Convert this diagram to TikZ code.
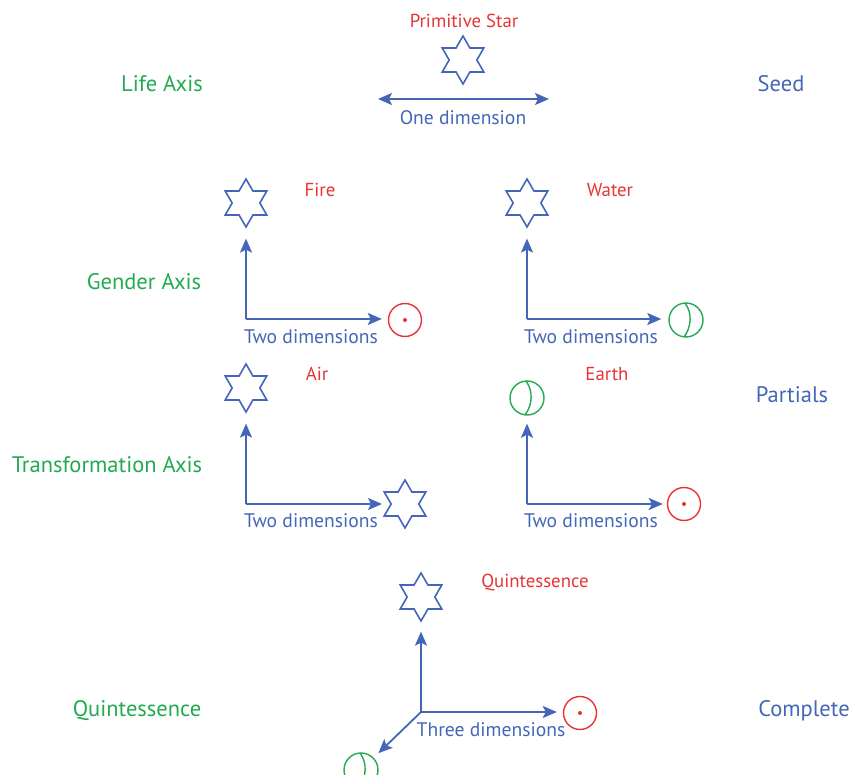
\documentclass[tikz,border=0pt]{standalone}
\usepackage{fontspec}
\setmainfont{PT Sans}
\usetikzlibrary{arrows.meta,shapes.geometric,calc}
\definecolor{cblue}{RGB}{68,102,184}
\definecolor{cred}{RGB}{230,52,52}
\definecolor{cgreen}{RGB}{34,170,80}
\begin{document}
\begin{tikzpicture}[x=1pt,y=-1pt,
  axislbl/.style={font=\fontsize{22.5}{24}\selectfont},
  elemlbl/.style={text=cred,font=\fontsize{18.8}{20}\selectfont},
  dimlbl/.style={text=cblue,font=\fontsize{19.6}{21}\selectfont},
  starsym/.style={shape=star,star points=6,star point ratio=1.732,minimum size=48pt,inner sep=0pt,draw=cblue,line width=1.6pt},
  sunsym/.style={circle,draw=cred,line width=1.4pt,minimum size=33pt,inner sep=0pt,
    path picture={\fill[cred] (path picture bounding box.center) circle (2pt);}},
  earthsym/.style={circle,draw=cgreen,line width=1.4pt,minimum size=34pt,inner sep=0pt,
    path picture={\draw[cgreen,line width=1.4pt] ([xshift=-1pt]path picture bounding box.north) .. controls +(7.5pt,-10pt) and +(7.5pt,10pt) .. ([xshift=-2pt]path picture bounding box.south);}},
  arr/.style={draw=cblue,line width=1.8pt,-{Stealth[length=14pt,width=12pt,inset=3pt]}},
  darr/.style={draw=cblue,line width=1.8pt,{Stealth[length=14pt,width=12pt,inset=3pt]}-{Stealth[length=14pt,width=12pt,inset=3pt]}}
]
\useasboundingbox (0,0) rectangle (852,775);

% side labels
\node[axislbl,text=cgreen] (lifeaxis) at (162,84) {Life Axis};
\node[axislbl,text=cgreen] (genderaxis) at (144,282) {Gender Axis};
\node[axislbl,text=cgreen] (transaxis) at (107,465) {Transformation Axis};
\node[axislbl,text=cgreen] (quintaxis) at (137,711) {Quintessence};
\node[axislbl,text=cblue] (seed) at (781,84) {Seed};
\node[axislbl,text=cblue] (partials) at (792,395) {Partials};
\node[axislbl,text=cblue] (complete) at (804,711) {Complete};

% primitive star
\node[elemlbl] (primlbl) at (464,21) {Primitive Star};
\node[starsym] (pstar) at (463,60) {};
\coordinate (oneL) at (378,99);
\coordinate (oneR) at (549,99);
\draw[darr] (oneL) -- (oneR);
\node[dimlbl] (onedim) at (463,118) {One dimension};

% fire
\node[elemlbl] (firelbl) at (320,190) {Fire};
\node[starsym] (firestar) at (246,203) {};
\coordinate (firec) at (246,319);
\node[sunsym] (firesun) at (405,320) {};
\draw[arr] (firec) -- ([yshift=-10pt]firestar.south);
\draw[arr] (firec) -- ([xshift=-6pt]firesun.west |- firec);
\node[dimlbl] (firedim) at (311,337) {Two dimensions};

% water
\node[elemlbl] (waterlbl) at (610,190) {Water};
\node[starsym] (waterstar) at (527,203) {};
\coordinate (waterc) at (527,319);
\node[earthsym] (waterearth) at (686,320) {};
\draw[arr] (waterc) -- ([yshift=-10pt]waterstar.south);
\draw[arr] (waterc) -- ([xshift=-7pt]waterearth.west |- waterc);
\node[dimlbl] (waterdim) at (591,337) {Two dimensions};

% air
\node[elemlbl] (airlbl) at (317,374) {Air};
\node[starsym] (airstar) at (246,388) {};
\coordinate (airc) at (246,504);
\node[starsym] (airstar2) at (405,504) {};
\draw[arr] (airc) -- ([yshift=-10pt]airstar.south);
\draw[arr] (airc) -- ([xshift=-23pt]airstar2.center);
\node[dimlbl] (airdim) at (311,521) {Two dimensions};

% earth
\node[elemlbl] (earthlbl) at (607,374) {Earth};
\node[earthsym] (earthearth) at (527,398) {};
\coordinate (earthc) at (527,504);
\node[sunsym] (earthsun) at (684,504) {};
\draw[arr] (earthc) -- ([yshift=-8pt]earthearth.south);
\draw[arr] (earthc) -- ([xshift=-4pt]earthsun.west |- earthc);
\node[dimlbl] (earthdim) at (591,521) {Two dimensions};

% quintessence
\node[elemlbl] (quintlbl) at (535,583) {Quintessence};
\node[starsym] (qstar) at (421,597) {};
\coordinate (qc) at (421,712);
\node[sunsym] (qsun) at (580,713) {};
\node[earthsym] (qearth) at (361,770) {};
\draw[arr] (qc) -- ([yshift=-9pt]qstar.south);
\draw[arr] (qc) -- ([xshift=-6pt]qsun.west |- qc);
\draw[arr] (qc) -- ($(qc)!0.71!(qearth.center)$);
\node[dimlbl] (qdim) at (491,730) {Three dimensions};
\end{tikzpicture}
\end{document}
